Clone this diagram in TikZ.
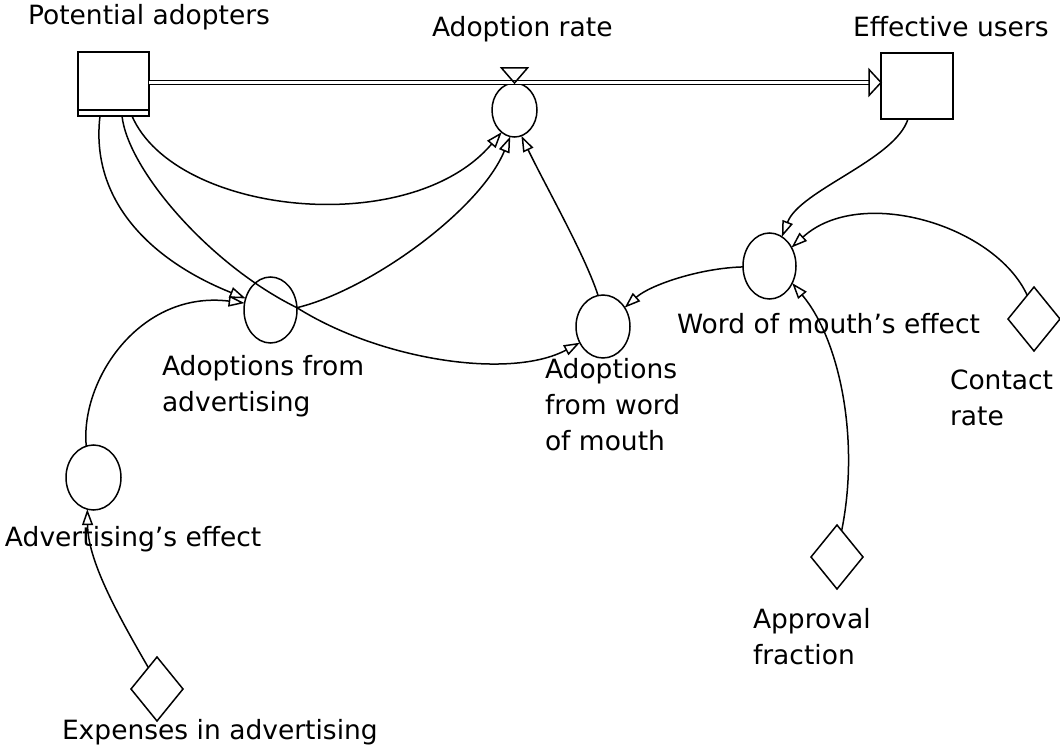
\documentclass[tikz,border=0pt]{standalone}
\usepackage{fontspec}
\setmainfont{DejaVu Sans}
\usetikzlibrary{shapes.geometric,arrows.meta,calc}
\begin{document}
\begin{tikzpicture}[x=1pt,y=-1pt,
  every node/.style={inner sep=0pt, outer sep=0pt},
  ln/.style={line width=1.5pt},
  stock/.style={draw, line width=1.5pt, rectangle},
  aux/.style={draw, line width=1.5pt, ellipse},
  const/.style={draw, line width=1.5pt, diamond},
  lbl/.style={font=\fontsize{26.5}{36}\selectfont, align=left, anchor=base west},
  link/.style={line width=1.5pt, -{Triangle[open,length=16pt,width=11pt]}},
  pipe/.style={double, double distance=2.8pt, line width=1.4pt},
  ]
\useasboundingbox (0,0) rectangle (1060,754);

% stocks
\node[stock, minimum width=71pt, minimum height=64pt] (PA) at (113.5,84) {};
\node[stock, minimum width=72pt, minimum height=66pt] (EU) at (917,86) {};
% auxiliaries
\node[aux, minimum width=45pt, minimum height=54pt] (AR) at (514.5,110) {};
\node[aux, minimum width=53pt, minimum height=66pt] (AA) at (270.5,310) {};
\node[aux, minimum width=54pt, minimum height=63pt] (AW) at (603,326.5) {};
\node[aux, minimum width=53pt, minimum height=66pt] (WE) at (769.5,266) {};
\node[aux, minimum width=55pt, minimum height=65pt] (AE) at (93.5,477.5) {};
% constants
\node[const, minimum width=52pt, minimum height=64pt] (CR) at (1034,319) {};
\node[const, minimum width=52pt, minimum height=64pt] (AF) at (837,557) {};
\node[const, minimum width=52pt, minimum height=64pt] (EA) at (157,689) {};

% stock bottom band
\draw[ln] ($(PA.south west)+(0,-6)$) -- ($(PA.south east)+(0,-6)$);

% flow pipe with valve and head
\coordinate (pipeY) at (0,82.5);
\draw[pipe] (PA.east |- pipeY) -- ($(EU.west |- pipeY)+(-12,0)$);
\draw[ln, fill=white] ($(EU.west |- pipeY)+(-12,-13)$) -- (EU.west |- pipeY) -- ($(EU.west |- pipeY)+(-12,13)$) -- cycle;
\draw[ln] ($(AR.north)+(-13,-15)$) -- ($(AR.north)+(13,-15)$) -- (AR.north) -- cycle;

% causal links
\draw[link] ($(PA.south)+(-13.5,0)$) .. controls (90,200) and (150,260) .. (AA.155);
\draw[link] ($(PA.south)+(8.5,0)$) .. controls (128,170) and (210,265) .. (AA.5)
            .. controls (380,360) and (510,380) .. (AW.215);
\draw[link] ($(PA.south)+(18.5,0)$) .. controls (175,215) and (410,240) .. (AR.240);
\draw[link] (AA.5) .. controls (370,290) and (480,210) .. (AR.261);
\draw[link] (AW.99) .. controls (585,255) and (545,185) .. (AR.285);
\draw[link] ($(EU.south)+(-9,0)$) .. controls (895,160) and (800,190) .. (WE.67);
\draw[link] (CR.106) .. controls (995,225) and (860,185) .. (WE.40);
\draw[link] (AF.80) .. controls (860,440) and (840,340) .. (WE.323);
\draw[link] (WE.182) .. controls (700,268) and (650,285) .. (AW.41);
\draw[link] (AE.103) .. controls (80,380) and (140,290) .. (AA.165);
\draw[link] (EA.112) .. controls (115,610) and (88,560) .. (AE.259);

% labels (anchored at the baseline of their last line)
\node[lbl] (tPA) at (28,25) {Potential adopters};
\node[lbl] (tAR) at (432,37) {Adoption rate};
\node[lbl] (tEU) at (853,37) {Effective users};
\node[lbl] (tAA) at (162,411) {Adoptions from\\advertising};
\node[lbl] (tAW) at (545,450) {Adoptions\\from word\\of mouth};
\node[lbl] (tWE) at (677,333) {Word of mouth’s effect};
\node[lbl] (tCR) at (950,425) {Contact\\rate};
\node[lbl] (tAE) at (5,546) {Advertising’s effect};
\node[lbl] (tAF) at (753,664) {Approval\\fraction};
\node[lbl] (tEA) at (62,739) {Expenses in advertising};
\end{tikzpicture}
\end{document}
